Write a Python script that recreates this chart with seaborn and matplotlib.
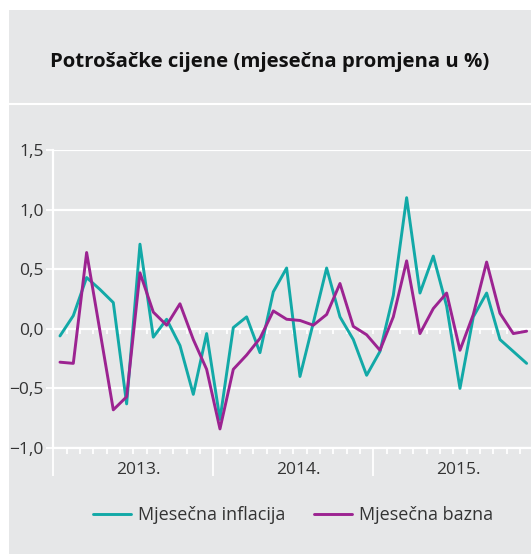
import numpy as np
import pandas as pd
import seaborn as sns
import matplotlib.pyplot as plt
from matplotlib.patches import Rectangle
from matplotlib.lines import Line2D
from matplotlib.transforms import blended_transform_factory

# mjesecne promjene, sijecanj 2013. - prosinac 2015.
inflacija = [-0.06, 0.11, 0.43, 0.33, 0.22, -0.63, 0.71, -0.07, 0.08, -0.14, -0.55, -0.04,
             -0.76, 0.01, 0.10, -0.20, 0.31, 0.51, -0.40, 0.05, 0.51, 0.10, -0.09, -0.39,
             -0.19, 0.28, 1.10, 0.30, 0.61, 0.19, -0.50, 0.10, 0.30, -0.09, -0.19, -0.29]
bazna = [-0.28, -0.29, 0.64, -0.02, -0.68, -0.57, 0.47, 0.14, 0.03, 0.21, -0.09, -0.34,
         -0.84, -0.34, -0.22, -0.08, 0.15, 0.08, 0.07, 0.03, 0.12, 0.38, 0.02, -0.05,
         -0.18, 0.10, 0.57, -0.04, 0.17, 0.30, -0.18, 0.12, 0.56, 0.13, -0.04, -0.02]
godine = ["2013.", "2014.", "2015."]
serije = ["Mjesečna inflacija", "Mjesečna bazna"]
y_ticks = [-1.0, -0.5, 0.0, 0.5, 1.0, 1.5]
y_labels = ["−1,0", "−0,5", "0,0", "0,5", "1,0", "1,5"]

boje = {serije[0]: "#12a9a7", serije[1]: "#9c2391"}
gray = "#e6e7e8"

n = len(inflacija)
df = pd.DataFrame({
    "mjesec": np.concatenate([np.arange(n) + 0.5, np.arange(n) + 0.5]),
    "vrijednost": inflacija + bazna,
    "serija": [serije[0]] * n + [serije[1]] * n,
})

sns.set_style("white")
plt.rcParams["font.family"] = ["Open Sans", "DejaVu Sans"]

fig = plt.figure(figsize=(5.31, 5.54), dpi=100)
fig.patch.set_facecolor("white")
W, H = 531, 554
fig.patches.append(Rectangle((9 / W, 0), 1 - 9 / W, (H - 10) / H, transform=fig.transFigure,
                             facecolor=gray, edgecolor="none", zorder=-10))
fig.add_artist(Line2D([9 / W, 1], [(H - 104) / H] * 2, transform=fig.transFigure,
                      color="white", lw=1.5, zorder=-5))
fig.text(270 / W, (H - 62) / H, "Potrošačke cijene (mjesečna promjena u %)",
         ha="center", va="center", fontsize=14.7, fontweight="bold", color="#111111")

ax = fig.add_axes([53.3 / W, (H - 448) / H, 480 / W, 298 / H])
ax.set_facecolor(gray)

# kratke crtice za mjesece i uz liniju nule (ispod krivulja)
ax.set_xlim(0, 36)
ax.set_ylim(-1.0, 1.5)
nula = ax.secondary_xaxis(0.4)
nula.set_xticks(np.arange(1, 36), [""] * 35)
nula.tick_params(axis="x", bottom=True, length=3.5, width=1.3, color="white", direction="out")
nula.spines["bottom"].set_visible(False)
nula.set_zorder(0.5)

sns.lineplot(data=df, x="mjesec", y="vrijednost", hue="serija", palette=boje,
             linewidth=2.1, ax=ax, legend=False)

ax.set_xlim(0, 36)
ax.set_ylim(-1.0, 1.5)
ax.set_yticks(y_ticks, y_labels)
ax.set_xticks([0, 12, 24], ["", "", ""])
ax.set_xticks(np.arange(1, 36), minor=True)
ax.tick_params(axis="x", which="both", bottom=True)
ax.tick_params(axis="x", which="major", length=20, width=1.3, color="white", direction="out")
ax.tick_params(axis="x", which="minor", length=4.3, width=1.3, color="white", direction="out")
ax.tick_params(axis="y", left=True, length=5, width=1.3, color="white", pad=2,
               labelsize=12.5, labelcolor="#333333")
ax.grid(axis="y", color="white", lw=1.6)
ax.set_axisbelow(True)
for s in ["top", "right"]:
    ax.spines[s].set_visible(False)
for s in ["left", "bottom"]:
    ax.spines[s].set_color("white")
    ax.spines[s].set_linewidth(1.6)
ax.set_xlabel("")
ax.set_ylabel("")

trans = blended_transform_factory(ax.transData, ax.transAxes)
for i, g in enumerate(godine):
    ax.text(12 * i + 6.4, -0.074, g, transform=trans, ha="center", va="center",
            fontsize=12.5, color="#333333")

handles = [Line2D([], [], color=boje[s], lw=2.1) for s in serije]
fig.legend(handles, serije, loc="center", bbox_to_anchor=(293 / W, (H - 515) / H), ncol=2,
           frameon=False, fontsize=13, handlelength=2.1, handletextpad=0.4,
           columnspacing=1.6, labelcolor="#333333")

fig.savefig("out.png", dpi=100, facecolor=fig.get_facecolor())
